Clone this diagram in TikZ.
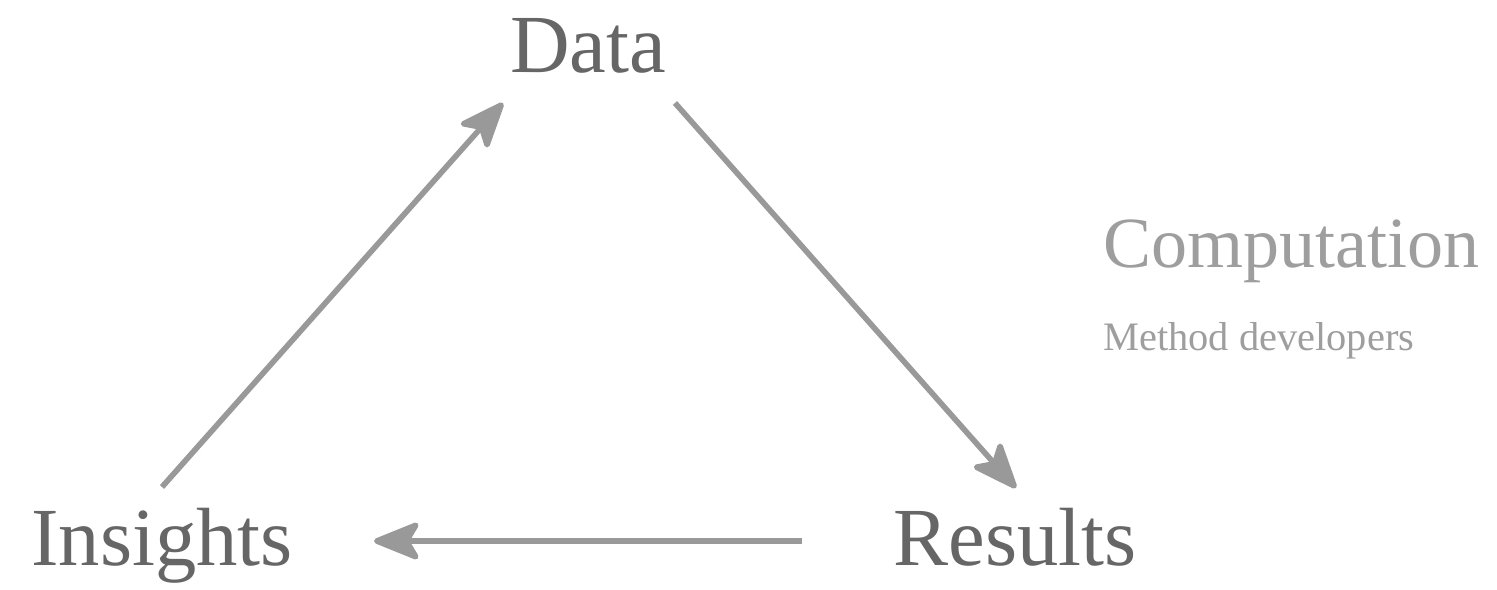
\documentclass[tikz,border=0pt]{standalone}
\usepackage{fontspec}
\setmainfont{Liberation Serif}
\usepackage{tikz}
\usetikzlibrary{arrows.meta}
\usepackage{xcolor}

\definecolor{labelgray}{HTML}{666666}
\definecolor{softgray}{HTML}{9E9E9E}
\definecolor{arrowgray}{HTML}{999999}

\begin{document}
\begin{tikzpicture}[x=0.02cm, y=-0.02cm,
    stage/.style={text=labelgray, font=\fontsize{47}{50}\selectfont, anchor=base, inner sep=0pt},
    flow/.style={draw=arrowgray, line width=3.2pt, -{Stealth[round, length=30pt, width=24pt, inset=7pt]}}]
  \useasboundingbox (0,0) rectangle (1497,589);

  % The three stages of the cycle
  \node[stage] (data) at (588, 72) {Data};
  \node[stage] (insights) at (162, 565) {Insights};
  \node[stage] (results) at (1015, 565) {Results};

  % Side caption
  \node[text=softgray, font=\fontsize{41}{44}\selectfont, anchor=base west, inner sep=0pt] (comp) at (1103, 267) {Computation};
  \node[text=softgray, font=\fontsize{23}{25}\selectfont, anchor=base west, inner sep=0pt] (dev) at (1103, 350) {Method developers};

  % Arrow ends
  \coordinate (i-out) at (162, 487);
  \coordinate (d-in) at (503, 103);
  \coordinate (d-out) at (675, 103);
  \coordinate (r-in) at (1016, 488);
  \coordinate (r-out) at (802, 541);
  \coordinate (i-in) at (374, 541);

  % Cycle arrows
  \draw[flow] (i-out) -- (d-in);
  \draw[flow] (d-out) -- (r-in);
  \draw[flow] (r-out) -- (i-in);
\end{tikzpicture}
\end{document}
